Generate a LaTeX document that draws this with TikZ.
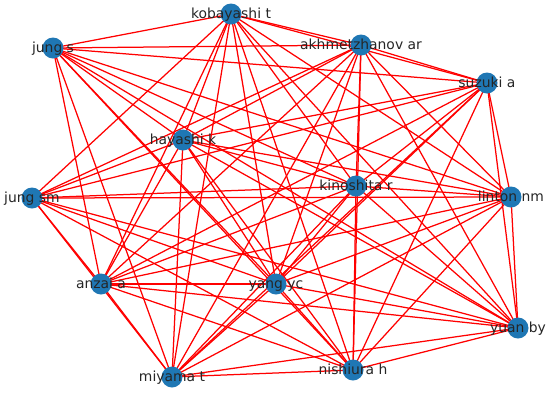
\documentclass[tikz,border=0pt]{standalone}
\usepackage{fontspec}
\setmainfont{DejaVu Sans}
\begin{document}
\begin{tikzpicture}[x=1pt,y=-1pt,
  edge/.style={draw=red,line width=1.25pt},
  vert/.style={circle,fill=nxblue,minimum size=21pt,inner sep=0pt},
  lab/.style={anchor=base,inner sep=0pt,font=\fontsize{13.9}{16}\selectfont,text=black!85}]
\definecolor{nxblue}{HTML}{1F77B4}
\useasboundingbox (0,0) rectangle (550,392);
\coordinate (ko) at (231,14);
\coordinate (js) at (53,48);
\coordinate (ak) at (361,45);
\coordinate (su) at (487,83);
\coordinate (hk) at (183,140);
\coordinate (jsm) at (32,198);
\coordinate (ki) at (356,186);
\coordinate (li) at (511,197);
\coordinate (an) at (101,284);
\coordinate (ya) at (276,284);
\coordinate (yu) at (518,328);
\coordinate (mi) at (172,377);
\coordinate (ni) at (353,370);
\foreach \b in {js,ak,su,hk,jsm,ki,li,an,ya,yu,mi,ni} \draw[edge] (ko) -- (\b);
\foreach \b in {ak,su,hk,ki,li,an,ya,yu,mi,ni} \draw[edge] (js) -- (\b);
\foreach \b in {su,hk,jsm,ki,li,an,ya,yu,mi,ni} \draw[edge] (ak) -- (\b);
\foreach \b in {hk,jsm,ki,li,an,ya,yu,mi,ni} \draw[edge] (su) -- (\b);
\foreach \b in {jsm,ki,li,an,ya,yu,mi,ni} \draw[edge] (hk) -- (\b);
\foreach \b in {ki,li,an,ya,yu,mi,ni} \draw[edge] (jsm) -- (\b);
\foreach \b in {li,an,ya,yu,mi,ni} \draw[edge] (ki) -- (\b);
\foreach \b in {an,ya,yu,mi,ni} \draw[edge] (li) -- (\b);
\foreach \b in {ya,yu,mi,ni} \draw[edge] (an) -- (\b);
\foreach \b in {yu,mi,ni} \draw[edge] (ya) -- (\b);
\foreach \b in {mi,ni} \draw[edge] (yu) -- (\b);
\draw[edge] (mi) -- (ni);
\foreach \n/\t in {ko/kobayashi t,js/jung s,ak/akhmetzhanov ar,su/suzuki a,hk/hayashi k,jsm/jung sm,ki/kinoshita r,li/linton nm,an/anzai a,ya/yang yc,yu/yuan by,mi/miyama t,ni/nishiura h}{
  \node[vert] (\n v) at (\n) {};
  \node[lab] (\n t) at ([yshift=-4.5pt]\n) {\t};
}
\end{tikzpicture}
\end{document}
